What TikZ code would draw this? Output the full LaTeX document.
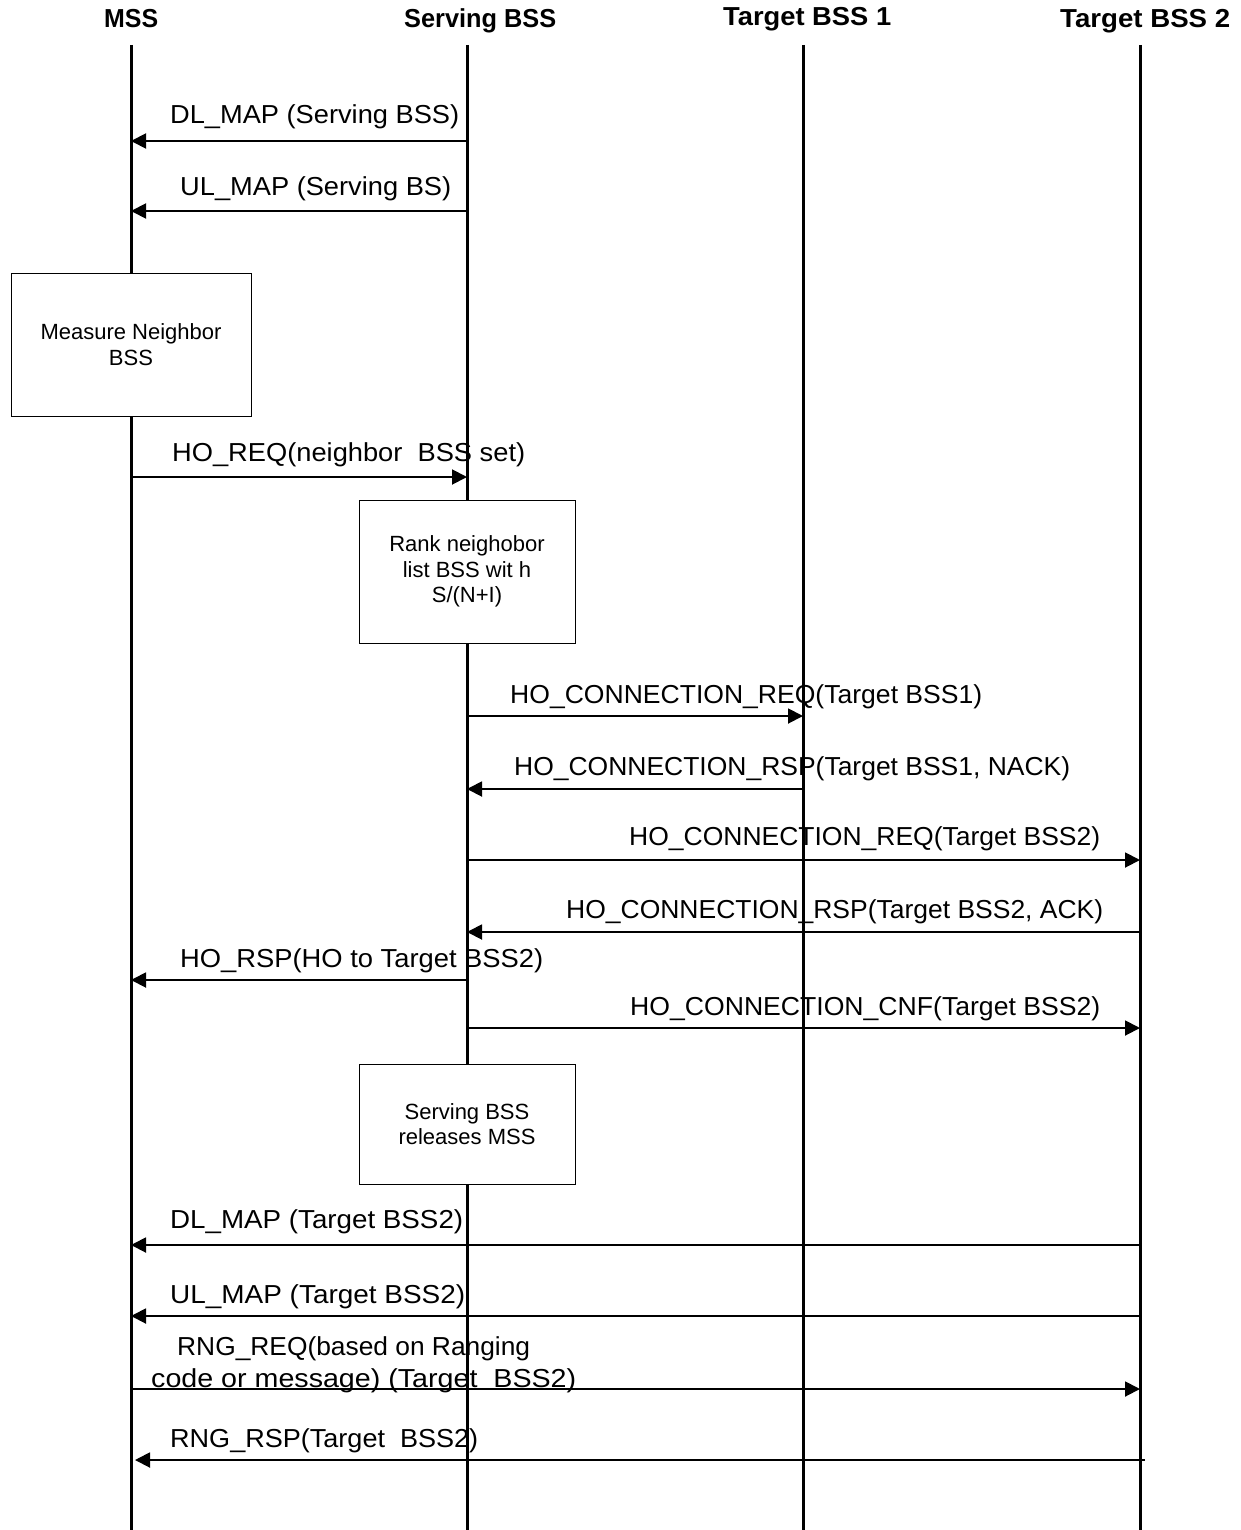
\documentclass[tikz,border=0pt]{standalone}
\usepackage{fontspec}
\setmainfont{Liberation Sans}
\usepackage{graphicx}
\usetikzlibrary{arrows.meta}
\newcommand\fitw[2]{\resizebox{#1pt}{\height}{#2}}
\begin{document}
\begin{tikzpicture}[x=1pt,y=-1pt,
 life/.style={line width=3pt},
 msg/.style={line width=1.9pt,-{Triangle[length=15pt,width=15pt]}},
 lbl/.style={anchor=base west,inner sep=0pt,font=\fontsize{26}{30}\selectfont},
 ttl/.style={anchor=base west,inner sep=0pt,font=\fontsize{26}{30}\selectfont\bfseries},
 actbox/.style={draw,line width=1pt,fill=white,align=center,inner sep=0pt,font=\fontsize{22}{25.5}\selectfont}]
\useasboundingbox (0,0) rectangle (1240,1530);
% titles
\node[ttl] (tm) at (104,28) {\fitw{54}{MSS}};
\node[ttl] (ts) at (404,28) {\fitw{152}{Serving BSS}};
\node[ttl] (t1) at (723,26) {\fitw{168}{Target BSS 1}};
\node[ttl] (t2) at (1060,28) {\fitw{170}{Target BSS 2}};
% lifelines
\coordinate (ms) at (131,45);
\coordinate (ss) at (467,45);
\coordinate (b1) at (803,45);
\coordinate (b2) at (1140,45);
\coordinate (msE) at (131,1530);
\coordinate (ssE) at (467,1530);
\coordinate (b1E) at (803,1530);
\coordinate (b2E) at (1140,1530);
\draw[life] (ms) -- (msE);
\draw[life] (ss) -- (ssE);
\draw[life] (b1) -- (b1E);
\draw[life] (b2) -- (b2E);
% messages
\draw[msg] (ss |- {0,141}) -- (ms |- {0,141});
\node[lbl] (l1) at (170,124) {\fitw{289}{DL\_MAP (Serving BSS)}};
\draw[msg] (ss |- {0,211}) -- (ms |- {0,211});
\node[lbl] (l2) at (180,196) {\fitw{271}{UL\_MAP (Serving BS)}};
% measure box
\node[actbox,minimum width=240pt,minimum height=143pt] (mbox) at (131,344.5) {Measure Neighbor\\BSS};
\draw[msg] (ms |- {0,477}) -- (ss |- {0,477});
\node[lbl] (l3) at (172,461) {\fitw{353}{HO\_REQ(neighbor\ \ BSS set)}};
% rank box
\node[actbox,minimum width=216pt,minimum height=143pt] (rbox) at (467,571.5) {Rank neighobor\\list BSS wit h\\S/(N+I)};
\draw[msg] (ss |- {0,716}) -- (b1 |- {0,716});
\node[lbl] (l4) at (510,703) {\fitw{472}{HO\_CONNECTION\_REQ(Target BSS1)}};
\draw[msg] (b1 |- {0,789}) -- (ss |- {0,789});
\node[lbl] (l5) at (514,775) {\fitw{556}{HO\_CONNECTION\_RSP(Target BSS1, NACK)}};
\draw[msg] (ss |- {0,860}) -- (b2 |- {0,860});
\node[lbl] (l6) at (629,845) {\fitw{471}{HO\_CONNECTION\_REQ(Target BSS2)}};
\draw[msg] (b2 |- {0,932}) -- (ss |- {0,932});
\node[lbl] (l7) at (566,918) {\fitw{537}{HO\_CONNECTION\_RSP(Target BSS2, ACK)}};
\draw[msg] (ss |- {0,980}) -- (ms |- {0,980});
\node[lbl] (l8) at (180,967) {\fitw{363}{HO\_RSP(HO to Target BSS2)}};
\draw[msg] (ss |- {0,1028}) -- (b2 |- {0,1028});
\node[lbl] (l9) at (630,1015) {\fitw{470}{HO\_CONNECTION\_CNF(Target BSS2)}};
% release box
\node[actbox,minimum width=216pt,minimum height=120pt] (sbox) at (467,1124) {Serving BSS\\releases MSS};
\draw[msg] (b2 |- {0,1245}) -- (ms |- {0,1245});
\node[lbl] (l10) at (170,1228) {\fitw{293}{DL\_MAP (Target BSS2)}};
\draw[msg] (b2 |- {0,1316}) -- (ms |- {0,1316});
\node[lbl] (l11) at (170,1303) {\fitw{295}{UL\_MAP (Target BSS2)}};
\draw[msg] (ms |- {0,1389}) -- (b2 |- {0,1389});
\node[lbl] (l12) at (177,1355) {\fitw{353}{RNG\_REQ(based on Ranging}};
\node[lbl] (l13) at (151,1387) {\fitw{425}{code or message) (Target\ \ BSS2)}};
\coordinate (rrs) at (1145,1460);
\coordinate (rre) at (135,1460);
\draw[msg] (rrs) -- (rre);
\node[lbl] (l14) at (170,1447) {\fitw{308}{RNG\_RSP(Target\ \ BSS2)}};
\end{tikzpicture}
\end{document}
